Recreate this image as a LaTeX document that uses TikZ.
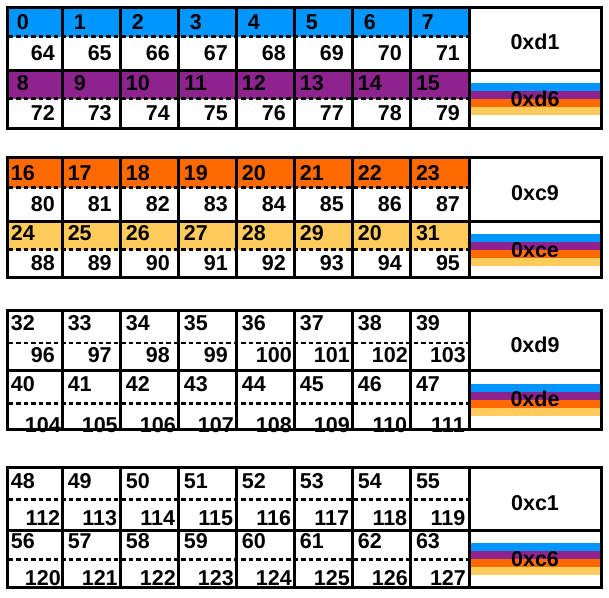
\documentclass[tikz,border=0pt]{standalone}
\usepackage{fontspec}
\setmainfont{Liberation Sans}[BoldFont={Liberation Sans Bold}]
\definecolor{cblue}{HTML}{0096FF}
\definecolor{cpurple}{HTML}{8E2390}
\definecolor{corange}{HTML}{FF6A00}
\definecolor{cyellow}{HTML}{FFCC5C}
\begin{document}
\begin{tikzpicture}[x=1pt,y=-1pt,
  lbl/.style={font=\bfseries\fontsize{21.5}{25}\selectfont, inner sep=0pt, anchor=base},
  frameline/.style={line width=3pt},
  dashsep/.style={line width=2.4pt, dash pattern=on 4.5pt off 3pt}]
\useasboundingbox (0,0) rectangle (609,597);
\fill[white] (0,0) rectangle (609,597);
\foreach \g/\top/\da/\mid/\db/\bot/\ba/\bb/\bc/\bd/\fa/\fb/\ha/\hb in {
  0/7/36.5/70.5/98.5/128/29.5/60/90.5/120.5/cblue/cpurple/0xd1/0xd6,
  1/157.5/187.5/221.5/249.5/277.7/180.5/211/240.5/270.5/corange/cyellow/0xc9/0xce,
  2/310/342.7/370.7/403.3/429.5/330.5/362.5/391.5/432.5/white/white/0xd9/0xde,
  3/467.5/499.5/530.5/559.5/587/488.3/525.5/548/585/white/white/0xc1/0xc6}{
  % row fills
  \fill[\fa] (7,\top) rectangle (469,\da);
  \fill[\fb] (7,\mid) rectangle (469,\db);
  % stripes in right box
  \pgfmathsetmacro\sc{(\mid+\bot)/2}
  \fill[cblue]   (471,\sc-16) rectangle (599.5,\sc-8);
  \fill[cpurple] (471,\sc-8)  rectangle (599.5,\sc);
  \fill[corange] (471,\sc)    rectangle (599.5,\sc+8);
  \fill[cyellow] (471,\sc+8)  rectangle (599.5,\sc+16);
  % dashed separators
  \draw[dashsep] (8.5,\da) -- (469,\da);
  \draw[dashsep] (8.5,\db) -- (469,\db);
  % column lines
  \foreach \x in {62.7,120.8,178.8,236.8,294.8,352.8,410.9,469}
    \draw[frameline] (\x,\top) -- (\x,\bot);
  \draw[frameline] (7,\mid) -- (601,\mid);
  \draw[frameline] (7,\top) rectangle (601,\bot);
  % cell labels
  \foreach \i/\xl/\xr in {0/7/62.7,1/62.7/120.8,2/120.8/178.8,3/178.8/236.8,
                          4/236.8/294.8,5/294.8/352.8,6/352.8/410.9,7/410.9/469}{
    \pgfmathsetmacro\xc{(\xl+\xr)/2}
    \pgfmathtruncatemacro\na{16*\g+\i}
    \pgfmathtruncatemacro\nb{64+16*\g+\i}
    \pgfmathtruncatemacro\nc{and(\g==1,\i==6) ? 20 : 16*\g+8+\i}
    \pgfmathtruncatemacro\nd{72+16*\g+\i}
    \node[lbl] (g\g t\i) at (\xc-12,\ba) {\na};
    \node[lbl] (g\g b\i) at (\xc+8,\bb) {\nb};
    \node[lbl] (g\g u\i) at (\xc-12,\bc) {\nc};
    \node[lbl] (g\g v\i) at (\xc+8,\bd) {\nd};
  }
  \node[lbl] (g\g ha) at (535,\top+42.7) {\ha};
  \node[lbl] (g\g hb) at (535,\mid+35.5) {\hb};
}
\end{tikzpicture}
\end{document}
